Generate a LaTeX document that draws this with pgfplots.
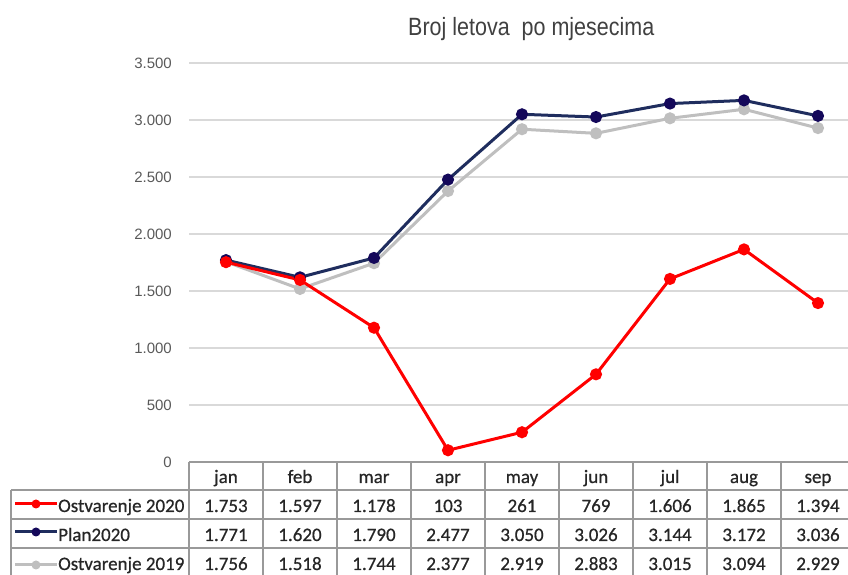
\documentclass[border=0pt]{standalone}
\usepackage{pgfplots}
\pgfplotsset{compat=1.18}
\usepackage{fontspec}
\setmainfont{Liberation Sans}
\newfontfamily\calibri[FakeBold=0.6]{Carlito}
\definecolor{planc}{HTML}{1F2D5E}
\definecolor{planmark}{HTML}{14085A}
\definecolor{grayline}{HTML}{BFBFBF}
\definecolor{gridc}{HTML}{D9D9D9}
\definecolor{tickc}{HTML}{595959}
\definecolor{tabline}{HTML}{999999}
\definecolor{txt}{HTML}{262626}
\definecolor{titlec}{HTML}{404040}

\pgfplotstableread{
x o2020 plan o2019
0 1753 1771 1756
1 1597 1620 1518
2 1178 1790 1744
3 103  2477 2377
4 261  3050 2919
5 769  3026 2883
6 1606 3144 3015
7 1865 3172 3094
8 1394 3036 2929
}\data

\begin{document}
\begin{tikzpicture}[x=1pt,y=1pt]
\useasboundingbox (0,0) rectangle (848,575);
\begin{axis}[
  at={(189pt,113pt)}, anchor=south west,
  scale only axis, width=666pt, height=399pt,
  xmin=-0.5, xmax=8.5, ymin=0, ymax=3500,
  axis line style={draw=none},
  xtick=\empty,
  ytick={0,500,1000,1500,2000,2500,3000,3500},
  ymajorgrids, grid style={gridc, line width=1.5pt},
  major tick length=0pt,
  yticklabel style={font=\fontsize{15}{15}\selectfont, text=tickc, inner sep=0pt, anchor=east, xshift=-17pt},
  /pgf/number format/1000 sep={.},
  /pgf/number format/assume math mode=true,
  clip=false,
]
\addplot[grayline, line width=3pt, mark=*, mark size=4.5pt, mark options={fill=grayline, draw=grayline}] table[x=x, y=o2019] {\data};
\addplot[planc, line width=3pt, mark=*, mark size=4.5pt, mark options={fill=planmark, draw=planmark}] table[x=x, y=plan] {\data};
\addplot[red, line width=3pt, mark=*, mark size=4.5pt, mark options={fill=red, draw=red}] table[x=x, y=o2020] {\data};
\end{axis}

% title
\node[anchor=base west, inner sep=0pt, xscale=0.86, text=titlec, font=\fontsize{25}{25}\selectfont] at (408,539) {Broj letova\ \ po mjesecima};

% table grid
\begin{scope}[draw=tabline, line width=2pt]
  \draw (189,113) -- (848,113);
  \draw (11,85) -- (848,85);
  \draw (11,56) -- (848,56);
  \draw (11,27) -- (848,27);
  \draw (11,85) -- (11,0);
  \foreach \k in {0,...,8} {
    \draw ({189+74*\k},113) -- ({189+74*\k},0);
  }
\end{scope}

% header and values
\begin{scope}[every node/.style={anchor=base, inner sep=0pt, text=txt, font=\calibri\fontsize{19}{19}\selectfont}]
  \foreach \m [count=\i from 0] in {jan,feb,mar,apr,may,jun,jul,aug,sep} {
    \node at ({226+74*\i},92) {\m};
  }
  \foreach \v [count=\i from 0] in {1.753,1.597,1.178,103,261,769,1.606,1.865,1.394} {
    \node at ({226+74*\i},63) {\v};
  }
  \foreach \v [count=\i from 0] in {1.771,1.620,1.790,2.477,3.050,3.026,3.144,3.172,3.036} {
    \node at ({226+74*\i},34) {\v};
  }
  \foreach \v [count=\i from 0] in {1.756,1.518,1.744,2.377,2.919,2.883,3.015,3.094,2.929} {
    \node at ({226+74*\i},5) {\v};
  }
  % legend labels
  \node[anchor=base west] at (58,63) {Ostvarenje 2020};
  \node[anchor=base west] at (58,34) {Plan2020};
  \node[anchor=base west] at (58,5) {Ostvarenje 2019};
\end{scope}

% legend keys
\draw[red, line width=3pt] (15,71) -- (57,71);
\fill[red] (36,71) circle (4.5pt);
\draw[planc, line width=3pt] (15,43) -- (57,43);
\fill[planmark] (36,43) circle (4.5pt);
\draw[grayline, line width=3pt] (15,10) -- (57,10);
\fill[grayline] (36,10) circle (4.5pt);
\end{tikzpicture}
\end{document}
